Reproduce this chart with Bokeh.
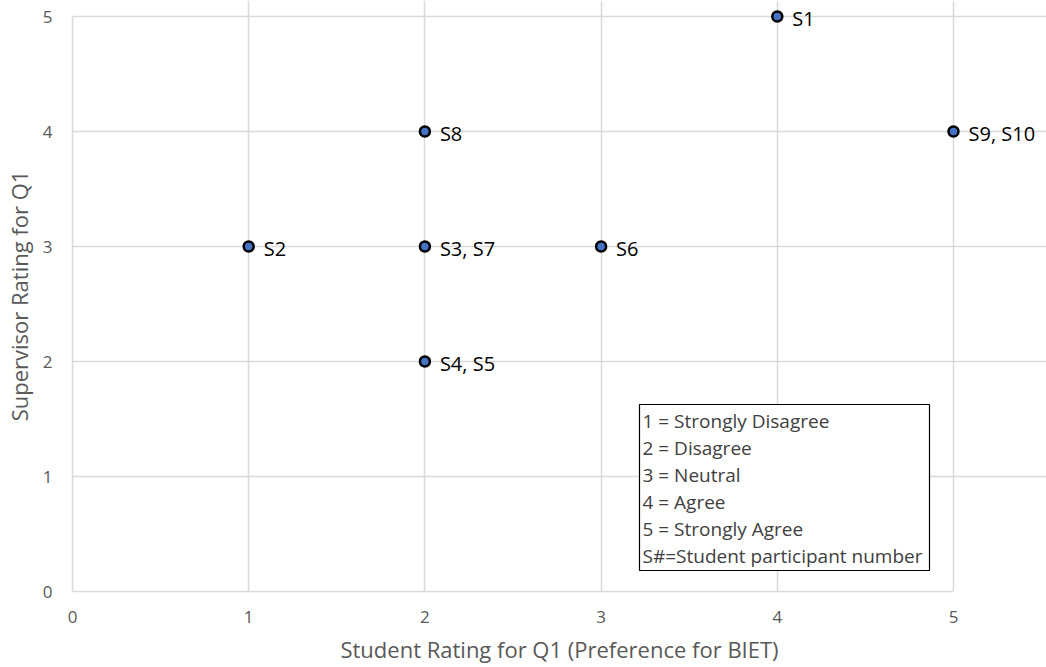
from bokeh.plotting import figure
from bokeh.models import Range1d, Label, BoxAnnotation, ColumnDataSource, LabelSet, FixedTicker
from bokeh.core.properties import value
from bokeh.embed import file_html
from bokeh.resources import INLINE

# data
student_rating = [4, 1, 2, 2, 3, 2, 5]
supervisor_rating = [5, 3, 3, 2, 3, 4, 4]
point_labels = ["S1", "S2", "S3, S7", "S4, S5", "S6", "S8", "S9, S10"]
key_lines = ["1 = Strongly Disagree", "2 = Disagree", "3 = Neutral", "4 = Agree",
             "5 = Strongly Agree", "S#=Student participant number"]
ticks = [0, 1, 2, 3, 4, 5]

FONT = "Open Sans"
W, H = 1046, 667
LB, BB = 72, 76
px_x = 176.2
px_y = 115.0
fw = W - LB
fh = H - BB
x_end = fw / px_x
y_end = fh / px_y

p = figure(width=W, height=H, output_backend="svg", toolbar_location=None,
           x_range=Range1d(0, x_end), y_range=Range1d(0, y_end),
           min_border_left=LB, min_border_bottom=BB, min_border_top=0, min_border_right=0)
p.outline_line_color = None
p.background_fill_color = "white"
p.border_fill_color = "white"

for ax in (p.xaxis[0], p.yaxis[0]):
    ax.ticker = FixedTicker(ticks=ticks)
    ax.bounds = (0, 5)
    ax.axis_line_color = "#d9d9d9"
    ax.axis_line_width = 1.5
    ax.major_tick_line_color = None
    ax.minor_tick_line_color = None
    ax.major_label_text_font = FONT
    ax.major_label_text_font_size = "17px"
    ax.major_label_text_color = "#595959"
    ax.axis_label_text_font = FONT
    ax.axis_label_text_font_size = "22px"
    ax.axis_label_text_color = "#595959"
    ax.axis_label_text_font_style = "normal"

p.xaxis.axis_label = "Student Rating for Q1 (Preference for BIET)"
p.yaxis.axis_label = "Supervisor Rating for Q1"
p.xaxis.major_label_standoff = 13
p.yaxis.major_label_standoff = 14
p.xaxis.axis_label_standoff = 8
p.yaxis.axis_label_standoff = 6

for g in (p.xgrid[0], p.ygrid[0]):
    g.ticker = FixedTicker(ticks=ticks)
    g.bounds = (0, 5)
    g.grid_line_color = "#d9d9d9"
    g.grid_line_width = 1.5

src = ColumnDataSource(dict(x=student_rating, y=supervisor_rating, t=point_labels))
p.scatter("x", "y", source=src, size=10, marker="circle",
          fill_color="#4472C4", line_color="black", line_width=2.5)
p.add_layout(LabelSet(x="x", y="y", text="t", source=src, x_offset=15, y_offset=-2,
                      text_font=value(FONT), text_font_size="20px", text_color="black",
                      text_baseline="middle"))

# key box
box_l, box_r = (639 - 72) / px_x, (929 - 72) / px_x
box_t, box_b = (591 - 404) / px_y, (591 - 570) / px_y
p.add_layout(BoxAnnotation(left=box_l, right=box_r, top=box_t, bottom=box_b,
                           fill_color="white", fill_alpha=1.0,
                           line_color="black", line_alpha=1.0, line_width=1.2))
for i, line in enumerate(key_lines):
    yy = (591 - (420 + 27 * i)) / px_y
    p.add_layout(Label(x=box_l, y=yy, text=line, x_offset=3, text_font=FONT,
                       text_font_size="19px", text_color="#404040", text_baseline="middle"))

open("out.html", "w").write(file_html(p, INLINE))
